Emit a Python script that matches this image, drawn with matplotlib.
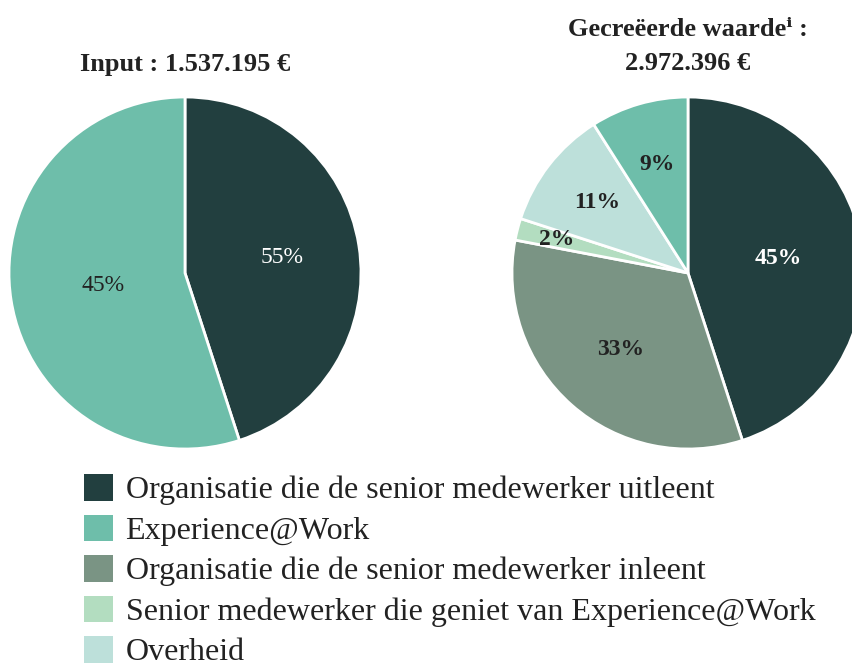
import numpy as np
import matplotlib.pyplot as plt
from matplotlib.patches import Patch

# colours per category (legend order)
categories = ['Organisatie die de senior medewerker uitleent',
              'Experience@Work',
              'Organisatie die de senior medewerker inleent',
              'Senior medewerker die geniet van Experience@Work',
              'Overheid']
colors = ['#223f3f', '#6ebeaa', '#7a9484', '#b3ddc0', '#bde0da']

# left pie: wedge sizes as drawn, printed labels as in the source
input_shares = [45, 55]
input_labels = ['55%', '45%']
input_cats = [0, 1]

# right pie
value_shares = [45, 33, 2, 11, 9]
value_cats = [0, 2, 3, 4, 1]

serif = ['Liberation Serif', 'DejaVu Serif']
plt.rcParams['font.family'] = serif
textcol = '#222222'

fig = plt.figure(figsize=(8.53, 6.67), dpi=100)
W, H = 853, 667
r = 176


def pie_axes(cx, cy):
    ax = fig.add_axes([(cx - r) / W, (H - cy - r) / H, 2 * r / W, 2 * r / H])
    return ax


def draw_pie(ax, shares, cats, labels, dists, weight):
    wedges, _ = ax.pie(shares, colors=[colors[c] for c in cats], startangle=90,
                       counterclock=False, radius=1,
                       wedgeprops=dict(edgecolor='white', linewidth=2))
    for w, lab, d, c in zip(wedges, labels, dists, cats):
        mid = np.deg2rad((w.theta1 + w.theta2) / 2)
        col = 'white' if c == 0 else textcol
        ax.text(d * np.cos(mid), d * np.sin(mid), lab, ha='center', va='center',
                fontsize=17, color=col, fontweight=weight)
    ax.set_xlim(-1, 1)
    ax.set_ylim(-1, 1)
    ax.axis('off')


ax1 = pie_axes(185, 273)
draw_pie(ax1, input_shares, input_cats, input_labels, [0.56, 0.47], 'normal')

ax2 = pie_axes(688, 273)
draw_pie(ax2, value_shares, value_cats, [f'{v}%' for v in value_shares],
         [0.52, 0.58, 0.77, 0.65, 0.64], 'bold')

fig.text(185 / W, 1 - 64 / H, 'Input : 1.537.195 €', ha='center', va='center',
         fontsize=19, fontweight='bold', color=textcol)
fig.text(688 / W, 1 - 29 / H, 'Gecreëerde waardeⁱ :', ha='center', va='center',
         fontsize=19, fontweight='bold', color=textcol)
fig.text(688 / W, 1 - 64 / H, '2.972.396 €', ha='center', va='center',
         fontsize=19, fontweight='bold', color=textcol)

handles = [Patch(facecolor=c, edgecolor='none') for c in colors]
fig.legend(handles, categories, loc='upper left', bbox_to_anchor=(84 / W, 1 - 474 / H),
           frameon=False, fontsize=23, handlelength=0.9, handleheight=0.9,
           handletextpad=0.4, labelspacing=0.29, borderaxespad=0, borderpad=0,
           labelcolor=textcol)

fig.savefig('out.png', dpi=100)
